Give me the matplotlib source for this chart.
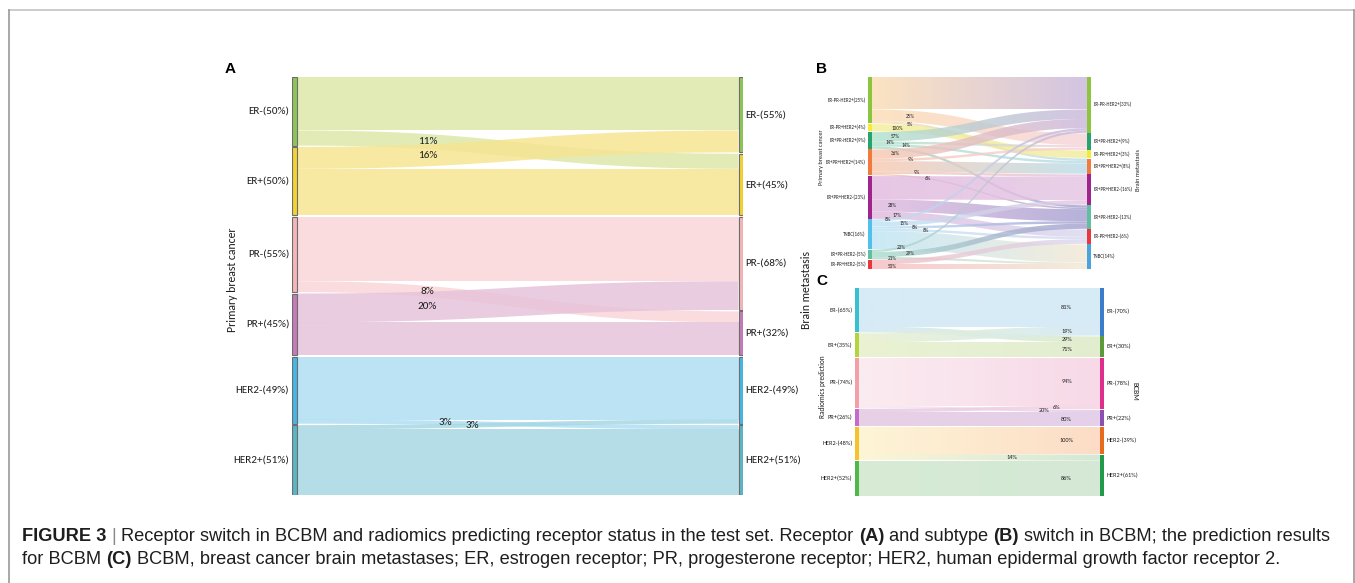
import numpy as np
import matplotlib
matplotlib.use("Agg")
import matplotlib.pyplot as plt
from matplotlib import font_manager
from matplotlib.colors import to_rgb
from matplotlib.lines import Line2D
from matplotlib.patches import Polygon, Rectangle

W, H, DPI = 1355, 583, 100

installed = {f.name for f in font_manager.fontManager.ttflist}
LAB_FONT = "Carlito" if "Carlito" in installed else "Lato"
CAP_FONT = "Liberation Sans Narrow" if "Liberation Sans Narrow" in installed else "Liberation Sans"
BOLD_FONT = "Liberation Sans"
TXT = "#1e1e1e"

# ---------------- Panel A: receptor switch (primary -> brain metastasis)
a_left = ["ER-(50%)", "ER+(50%)", "PR-(55%)", "PR+(45%)", "HER2-(49%)", "HER2+(51%)"]
a_right = ["ER-(55%)", "ER+(45%)", "PR-(68%)", "PR+(32%)", "HER2-(49%)", "HER2+(51%)"]
a_src = [0, 0, 1, 1, 2, 2, 3, 3, 4, 4, 5, 5]
a_dst = [0, 1, 0, 1, 2, 3, 2, 3, 4, 5, 4, 5]
a_val = [39, 11, 16, 34, 47, 8, 21, 24, 46, 3, 3, 48]
a_lab = ["", "11%", "16%", "", "", "8%", "20%", "", "", "3%", "3%", ""]
a_labx = [0, 0.30, 0.30, 0, 0, 0.30, 0.30, 0, 0, 0.34, 0.40, 0]

# ---------------- Panel B: subtype switch
b_left = ["ER-PR-HER2+(25%)", "ER-PR+HER2+(4%)", "ER+PR-HER2+(9%)", "ER+PR+HER2+(14%)",
          "ER+PR+HER2-(23%)", "TNBC(16%)", "ER+PR-HER2-(5%)", "ER-PR+HER2-(5%)"]
b_right = ["ER-PR-HER2+(33%)", "ER+PR-HER2+(9%)", "ER-PR+HER2+(3%)", "ER+PR+HER2+(8%)",
           "ER+PR+HER2-(16%)", "ER+PR-HER2-(13%)", "ER-PR+HER2-(6%)", "TNBC(14%)"]
b_src = [0, 0, 0, 1, 2, 2, 2, 2, 3, 3, 3, 3, 3, 4, 4, 4, 5, 5, 5, 5, 5, 6, 6, 6, 7, 7]
b_dst = [0, 1, 3, 2, 0, 1, 3, 5, 0, 1, 3, 4, 5, 4, 5, 6, 0, 4, 5, 6, 7, 0, 5, 7, 6, 7]
b_val = [17.5, 6.25, 1.25, 4.0, 5.1, 1.3, 1.3, 1.3, 5.0, 1.3, 5.6, 1.3, 0.8,
         12.6, 6.5, 3.9, 1.3, 2.4, 1.3, 1.3, 9.7, 1.15, 2.8, 1.05, 2.5, 2.5]
b_lab = ["", "25%", "5%", "100%", "57%", "14%", "14%", "", "36%", "9%", "", "9%", "6%",
         "", "28%", "17%", "8%", "15%", "8%", "8%", "", "23%", "29%", "21%", "", "50%"]
b_labx = [0, 0.19, 0.19, 0.13, 0.12, 0.10, 0.17, 0, 0.12, 0.19, 0, 0.22, 0.27,
          0, 0.11, 0.13, 0.09, 0.16, 0.21, 0.26, 0, 0.15, 0.19, 0.11, 0, 0.11]

# ---------------- Panel C: radiomics prediction -> BCBM
c_left = ["ER-(65%)", "ER+(35%)", "PR-(74%)", "PR+(26%)", "HER2-(48%)", "HER2+(52%)"]
c_right = ["ER-(70%)", "ER+(30%)", "PR-(78%)", "PR+(22%)", "HER2-(39%)", "HER2+(61%)"]
c_src = [0, 0, 1, 1, 2, 2, 3, 3, 4, 4, 5]
c_dst = [0, 1, 0, 1, 2, 3, 2, 3, 4, 5, 5]
c_val = [56.7, 8.7, 13.3, 21.3, 71, 3, 5, 21, 39, 9, 52]
c_lab = ["81%", "29%", "19%", "71%", "94%", "20%", "6%", "80%", "100%", "14%", "86%"]
c_labx = [0.85, 0.85, 0.85, 0.85, 0.85, 0.76, 0.81, 0.85, 0.85, 0.63, 0.85]

# colours
a_node = ["#8dc55a", "#f3d231", "#f4b6b8", "#c47bb7", "#45b6e6", "#5ab5c4"]
a_flow = ["#dde8a8", "#f6e592", "#fad6da", "#e6c3da", "#b0def3", "#a8d8e4"]

b_lnode = ["#8cc63e", "#f2ea3c", "#27a36e", "#f07b3c", "#a0248e", "#4fc1ea", "#5fbfa0", "#e8383d"]
b_rnode = ["#8cc63e", "#27a36e", "#f2ea3c", "#f07b3c", "#a0248e", "#5fbfa0", "#e8383d", "#4aa4dc"]
b_lflow = ["#fbdcb2", "#f4ee96", "#aee2cc", "#f8c8b0", "#e0b8de", "#bde4f5", "#aadccb", "#f6bcc0"]
b_rflow = ["#c9b6db", "#f7d2d8", "#f1ec9e", "#b9dce8", "#e4c4e2", "#a49fd0", "#d8d8ef", "#f2e8d4"]

c_lnode = ["#39c0cf", "#b5d43b", "#f2a0a6", "#c46ccc", "#f6c12c", "#4fb848"]
c_rnode = ["#3b7dc9", "#5e9a3c", "#df2f8c", "#8c4fb2", "#e86a1c", "#23994a"]
c_lflow = ["#d3e9f6", "#e9f1cf", "#fbeaf0", "#e6cbe4", "#fef4d2", "#d3e9cf"]
c_rflow = ["#d3e9f6", "#dfecca", "#f7d5e5", "#e2cce8", "#fcd9c0", "#cfe6d2"]

fig = plt.figure(figsize=(W / DPI, H / DPI), dpi=DPI)
fig.patch.set_facecolor("white")

T = np.linspace(0, 1, 90)
BX = 1.5 * (1 - T) ** 2 * T + 1.5 * (1 - T) * T ** 2 + T ** 3
BY = 3 * (1 - T) * T ** 2 + T ** 3


def px_axes(x0, y0, x1, y1):
    ax = fig.add_axes([x0 / W, 1 - y1 / H, (x1 - x0) / W, (y1 - y0) / H])
    ax.set_axis_off()
    return ax


def layout(src, dst, val, nl, nr, gap):
    src, dst, val = np.asarray(src), np.asarray(dst), np.asarray(val, float)
    lsize = np.bincount(src, weights=val, minlength=nl)
    rsize = np.bincount(dst, weights=val, minlength=nr)
    ltop = np.concatenate([[0], np.cumsum(lsize + gap)[:-1]])
    rtop = np.concatenate([[0], np.cumsum(rsize + gap)[:-1]])
    y0 = np.zeros(len(val))
    y1 = np.zeros(len(val))
    off = ltop.copy()
    for k in sorted(range(len(val)), key=lambda k: (src[k], dst[k])):
        y0[k] = off[src[k]]
        off[src[k]] += val[k]
    off = rtop.copy()
    for k in sorted(range(len(val)), key=lambda k: (dst[k], src[k])):
        y1[k] = off[dst[k]]
        off[dst[k]] += val[k]
    total = max(ltop[-1] + lsize[-1], rtop[-1] + rsize[-1])
    return lsize, rsize, ltop, rtop, y0, y1, total


def gradient_band(ax, verts, c0, c1, alpha):
    patch = Polygon(verts, closed=True, facecolor="none", edgecolor="none")
    ax.add_patch(patch)
    g = np.linspace(0, 1, 64)[:, None]
    rgba = np.ones((1, 64, 4))
    rgba[0, :, :3] = (1 - g) * np.array(to_rgb(c0)) + g * np.array(to_rgb(c1))
    rgba[0, :, 3] = alpha
    im = ax.imshow(rgba, extent=[verts[:, 0].min(), verts[:, 0].max(),
                                 verts[:, 1].max(), verts[:, 1].min()],
                   aspect="auto", interpolation="bilinear", zorder=1)
    im.set_clip_path(patch)


def draw_sankey(ax, src, dst, val, lnames, rnames, gap, bw, lnode, rnode,
                lflow, rflow, alpha, node_fs, pad, labels, labx, lab_fs, edge=None):
    lsize, rsize, ltop, rtop, y0, y1, total = layout(src, dst, val, len(lnames), len(rnames), gap)
    xa, xb = bw, 1 - bw
    xs = xa + (xb - xa) * BX
    for k in range(len(val)):
        if val[k] <= 0:
            continue
        top = y0[k] + (y1[k] - y0[k]) * BY
        verts = np.vstack([np.c_[xs, top], np.c_[xs[::-1], top[::-1] + val[k]]])
        if rflow is None:
            ax.add_patch(Polygon(verts, closed=True, facecolor=lflow[src[k]],
                                 edgecolor="none", alpha=alpha, zorder=1))
        else:
            gradient_band(ax, verts, lflow[src[k]], rflow[dst[k]], alpha)
        if labels[k]:
            t = np.interp((labx[k] - xa) / (xb - xa), BX, T)
            yc = y0[k] + (y1[k] - y0[k]) * (3 * (1 - t) * t ** 2 + t ** 3) + val[k] / 2
            ax.text(labx[k], yc, labels[k], fontsize=lab_fs, ha="center", va="center",
                    color=TXT, family=LAB_FONT, zorder=5)
    lw = 0.8 if edge else 0
    for i, name in enumerate(lnames):
        ax.add_patch(Rectangle((0, ltop[i]), bw, lsize[i], facecolor=lnode[i],
                               edgecolor=edge or "none", linewidth=lw, zorder=3))
        ax.text(-pad, ltop[i] + lsize[i] / 2, name, fontsize=node_fs, ha="right",
                va="center", color=TXT, family=LAB_FONT, clip_on=False)
    for j, name in enumerate(rnames):
        ax.add_patch(Rectangle((1 - bw, rtop[j]), bw, rsize[j], facecolor=rnode[j],
                               edgecolor=edge or "none", linewidth=lw, zorder=3))
        ax.text(1 + pad, rtop[j] + rsize[j] / 2, name, fontsize=node_fs, ha="left",
                va="center", color=TXT, family=LAB_FONT, clip_on=False)
    ax.set_xlim(0, 1)
    ax.set_ylim(total, 0)


# Panel A
axA = px_axes(292, 77, 743, 495)
draw_sankey(axA, a_src, a_dst, a_val, a_left, a_right, 1.0, 4.5 / 451,
            a_node, a_node, a_flow, None, 0.85, 8, 0.006, a_lab, a_labx, 8, edge="#6d6d6d")

# Panel B
axB = px_axes(868, 77, 1091, 269)
draw_sankey(axB, b_src, b_dst, b_val, b_left, b_right, 0.35, 4 / 223,
            b_lnode, b_rnode, b_lflow, b_rflow, 0.8, 3.5, 0.01, b_lab, b_labx, 3.7)

# Panel C
axC = px_axes(855, 288, 1104, 496)
draw_sankey(axC, c_src, c_dst, c_val, c_left, c_right, 1.2, 4 / 249,
            c_lnode, c_rnode, c_lflow, c_rflow, 0.9, 4.5, 0.01, c_lab, c_labx, 4.5)


def ftext(x, y, s, **kw):
    return fig.text(x / W, 1 - y / H, s, **kw)


# axis titles
ftext(232, 280, "Primary breast cancer", rotation=90, ha="center", va="center",
      fontsize=8.5, family=LAB_FONT, color=TXT)
ftext(806, 290, "Brain metastasis", rotation=90, ha="center", va="center",
      fontsize=8.5, family=LAB_FONT, color=TXT)
ftext(822, 157, "Primary breast cancer", rotation=90, ha="center", va="center",
      fontsize=4.5, family=LAB_FONT, color=TXT)
ftext(1138, 170, "Brain metastasis", rotation=90, ha="center", va="center",
      fontsize=4.5, family=LAB_FONT, color=TXT)
ftext(823, 387, "Radiomics prediction", rotation=90, ha="center", va="center",
      fontsize=5.3, family=LAB_FONT, color=TXT)
ftext(1135, 391, "BCBM", rotation=270, ha="center", va="center",
      fontsize=5.5, family=LAB_FONT, color=TXT)

# panel letters
for letter, x, y in [("A", 225, 73), ("B", 816, 73), ("C", 816, 285)]:
    ftext(x, y, letter, fontsize=11, fontweight="bold", family=BOLD_FONT,
          ha="left", va="baseline", color="black")

# frame
for xs_, ys_, col in [((9, 1354), (10, 10), "#c4c4c4"), ((9, 9), (10, 583), "#9a9a9a"),
                      ((1354, 1354), (10, 583), "#9a9a9a")]:
    fig.add_artist(Line2D([x / W for x in xs_], [1 - y / H for y in ys_],
                          color=col, linewidth=1.2))

# caption with mixed weights
rend = fig.canvas.get_renderer()


def text_w(s, fs, bold):
    t = fig.text(0, 0, s, fontsize=fs, family=CAP_FONT,
                 fontweight="bold" if bold else "normal")
    w = t.get_window_extent(rend).width
    t.remove()
    return w


def run_w(s, fs, bold):
    return text_w("|" + s + "|", fs, bold) - text_w("||", fs, bold)


cap1 = [("FIGURE 3", True, TXT), (" | ", False, "#8a8a8a"),
        ("Receptor switch in BCBM and radiomics predicting receptor status in the test set. Receptor ", False, TXT),
        ("(A)", True, TXT), (" and subtype ", False, TXT), ("(B)", True, TXT),
        (" switch in BCBM; the prediction results", False, TXT)]
cap2 = [("for BCBM ", False, TXT), ("(C)", True, TXT),
        (" BCBM, breast cancer brain metastases; ER, estrogen receptor; PR, progesterone receptor; "
         "HER2, human epidermal growth factor receptor 2.", False, TXT)]

fs0 = 12.0
w1 = sum(run_w(s, fs0, b) for s, b, _ in cap1)
cap_fs = fs0 * (1333 - 22) / w1


def draw_line(runs, x, y, fs):
    for s, bold, col in runs:
        lead = len(s) - len(s.lstrip(" "))
        xx = x + (run_w(" " * lead, fs, bold) if lead else 0)
        ftext(xx, y, s.strip(" "), fontsize=fs, family=CAP_FONT,
              fontweight="bold" if bold else "normal", color=col,
              ha="left", va="baseline")
        x += run_w(s, fs, bold)


draw_line(cap1, 22, 541, cap_fs)
draw_line(cap2, 22, 564, cap_fs)

fig.savefig("out.png", dpi=DPI, facecolor="white")
